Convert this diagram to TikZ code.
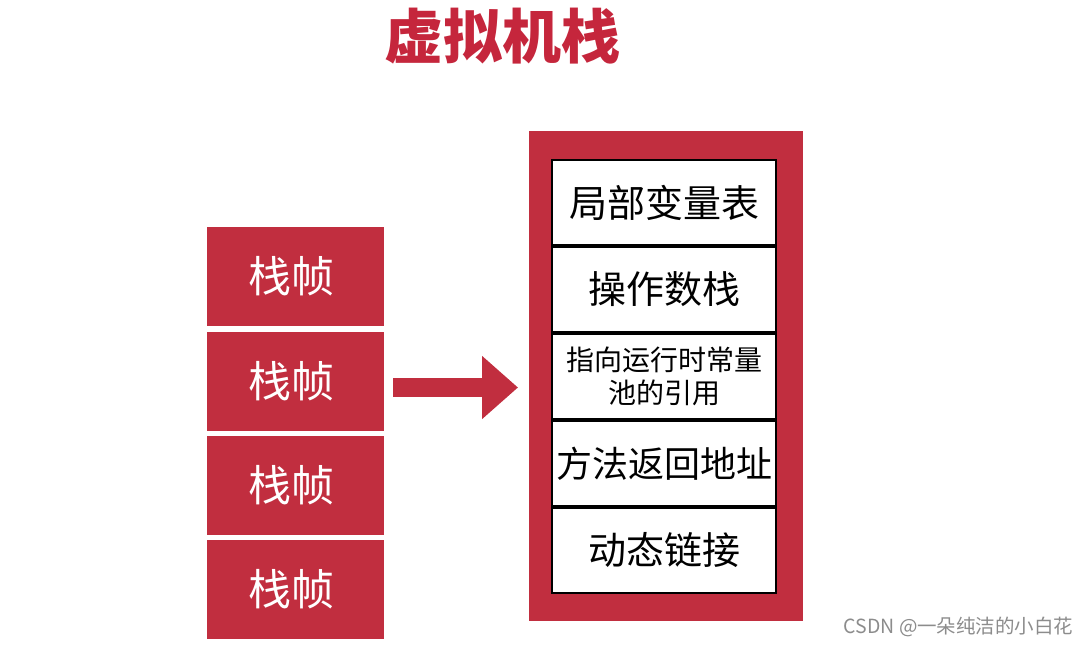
\documentclass[tikz,border=0pt]{standalone}
\usepackage{fontspec}
\usepackage{tikz}
\usetikzlibrary{arrows.meta,positioning}
\setmainfont{Noto Sans CJK SC}
\definecolor{stackred}{RGB}{193,46,63}
\definecolor{titlered}{RGB}{197,38,60}

\begin{document}
\begin{tikzpicture}[x=1pt, y=-1pt,
    frame/.style={fill=stackred, text=white, minimum width=177pt, minimum height=99pt,
                  inner sep=0pt, outer sep=0pt, font=\fontsize{43}{43}\selectfont},
    slot/.style={draw=black, line width=2.5pt, fill=white, minimum width=224pt, minimum height=85pt,
                 inner sep=0pt, align=center, font=\fontsize{38}{40}\selectfont},
    bigarrow/.style={stackred, line width=19pt, -{Triangle[length=36pt, width=61pt]}}]
                \useasboundingbox (0,0) rectangle (1091,645);
                
                % Title
                \node[text=titlered, font=\fontsize{59}{59}\selectfont\bfseries] (title) at (502,36) {虚拟机栈};
                
                % Frames on the left
                \node[frame] (f1) at (295.5,276.5) {\hspace{-8pt}栈帧};
                \node[frame] (f2) at (295.5,381.5) {\hspace{-8pt}栈帧};
                \node[frame] (f3) at (295.5,485.5) {\hspace{-8pt}栈帧};
                \node[frame] (f4) at (295.5,589.5) {\hspace{-8pt}栈帧};
                
                % One frame opened up
                \node[fill=stackred, minimum width=274pt, minimum height=490pt, inner sep=0pt, outer sep=0pt] (stack) at (666,376) {};
                \node[slot] (locals) at (664,202.5) {局部变量表};
                \node[slot] (operands) at (664,289.5) {操作数栈};
                \node[slot, font=\fontsize{28}{33}\selectfont] (poolref) at (664,376.5) {指向运行时常量\\池的引用};
                \node[slot, font=\fontsize{36}{40}\selectfont] (retaddr) at (664,463.5) {方法返回地址};
                \node[slot] (dynlink) at (664,550.5) {动态链接};
                
                % Arrow
                \draw[bigarrow] ([xshift=9pt, yshift=-6pt]f2.east) -- ([xshift=-11pt, yshift=-11.5pt]stack.west);
                
                % Watermark
                \node[anchor=east, text=black!45, font=\fontsize{19.5}{19.5}\selectfont] (mark) at (1077,627) {CSDN @一朵纯洁的小白花};
            \end{tikzpicture}
\end{document}
